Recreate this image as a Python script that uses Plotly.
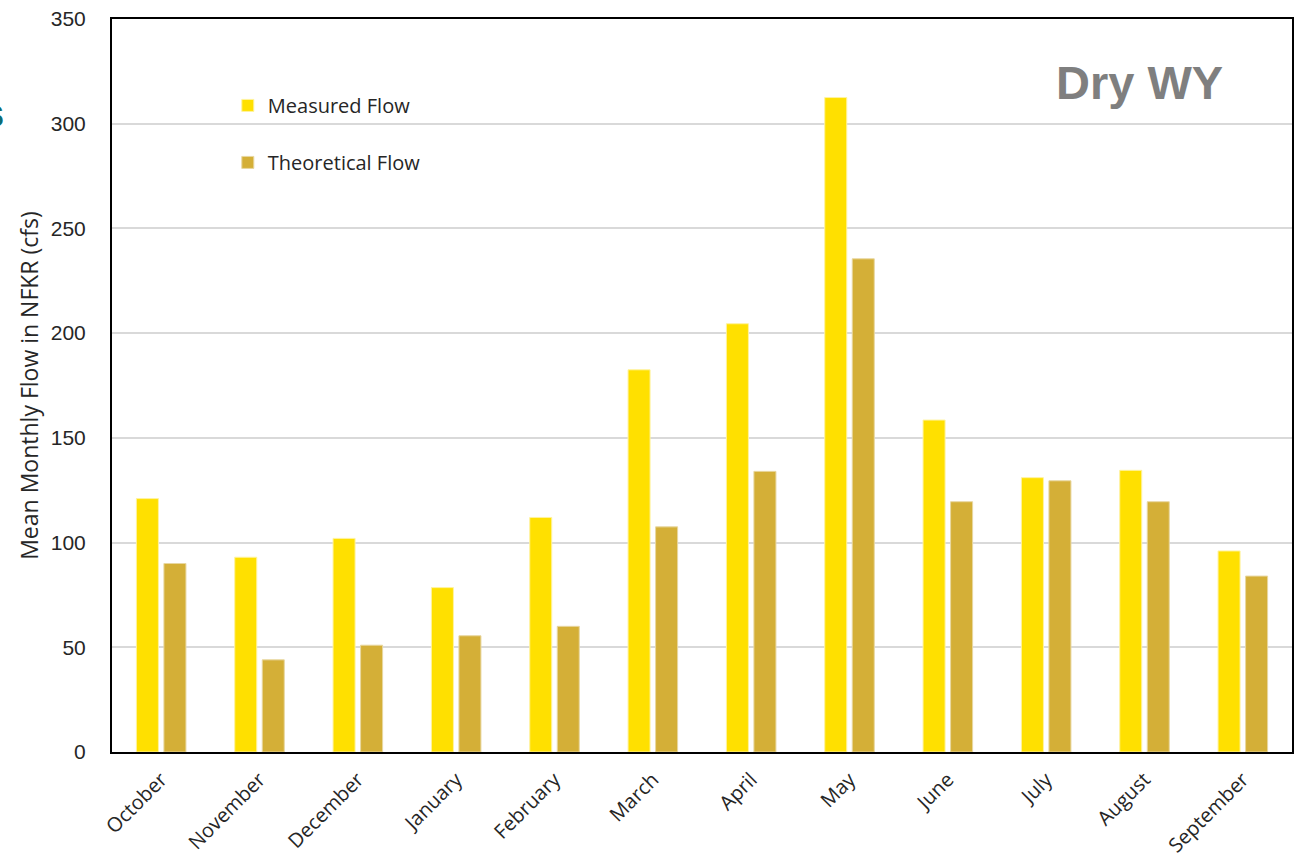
import plotly.graph_objects as go

months = ["October", "November", "December", "January", "February", "March",
          "April", "May", "June", "July", "August", "September"]
measured_flow = [121, 93, 102, 78.5, 112, 182.5, 204.5, 312.5, 158.5, 131, 134.5, 96]
theoretical_flow = [90, 44, 51, 55.5, 60, 107.5, 134, 235.5, 119.5, 129.5, 119.5, 84]

W, H = 1296, 860
L, R, T, B = 112, 2, 19, 107
PW = W - L - R
PH = H - T - B


def px_x(p):
    return (p - L) / PW


def px_y(p):
    return 1 - (p - T) / PH


fig = go.Figure()
fig.add_trace(go.Bar(
    x=months, y=measured_flow, name="Measured Flow",
    marker=dict(color="#FFE000", line=dict(color="#FFF3A0", width=1)),
    legendgroup="m",
))
fig.add_trace(go.Bar(
    x=months, y=theoretical_flow, name="Theoretical Flow",
    marker=dict(color="#D4AF37", line=dict(color="#E8D7A0", width=1)),
    legendgroup="t",
))

text_font = "Open Sans, Noto Sans, sans-serif"
axis_font = dict(family=text_font, size=20, color="#262626")

fig.update_layout(
    width=W, height=H,
    margin=dict(l=L, r=R, t=T, b=B, pad=0),
    paper_bgcolor="white", plot_bgcolor="white",
    barmode="group", bargap=0.44, bargroupgap=0.2,
    showlegend=True,
    legend=dict(
        x=px_x(228), y=px_y(86), xanchor="left", yanchor="top",
        bgcolor="rgba(0,0,0,0)",
        font=dict(family=text_font, size=20, color="#262626"),
        tracegroupgap=28, itemwidth=30,
    ),
    xaxis=dict(
        tickangle=-45, tickfont=axis_font,
        showline=True, linecolor="black", linewidth=2, mirror=True,
        showgrid=False, ticks="", ticklabelstandoff=6,
    ),
    yaxis=dict(
        range=[0, 350], dtick=50,
        tickfont=dict(family="Liberation Sans, Arial, sans-serif", size=21, color="#262626"),
        showline=True, linecolor="black", linewidth=2, mirror=True,
        showgrid=True, gridcolor="#D9D9D9", gridwidth=1.5,
        ticks="", ticklabelstandoff=20, zeroline=False,
        title=dict(text="Mean Monthly Flow in NFKR (cfs)", standoff=6,
                   font=dict(family=text_font, size=23, color="#262626")),
    ),
    shapes=[dict(
        type="rect", xref="paper", yref="paper",
        x0=px_x(202), x1=px_x(464), y0=px_y(190), y1=px_y(75),
        fillcolor="white", line=dict(width=0), layer="between",
    )],
    annotations=[
        dict(text="<b>Dry WY</b>", xref="paper", yref="paper",
             x=px_x(1141), y=px_y(83), xanchor="center", yanchor="middle",
             showarrow=False,
             font=dict(family="Liberation Sans, Arial, sans-serif", size=47, color="#7F7F7F")),
        dict(text="<b>s</b>", xref="paper", yref="paper",
             x=px_x(6), y=px_y(113), xanchor="right", yanchor="middle",
             showarrow=False,
             font=dict(family="Liberation Sans, Arial, sans-serif", size=40, color="#0E6B73")),
    ],
)

fig.write_html("out.html")
